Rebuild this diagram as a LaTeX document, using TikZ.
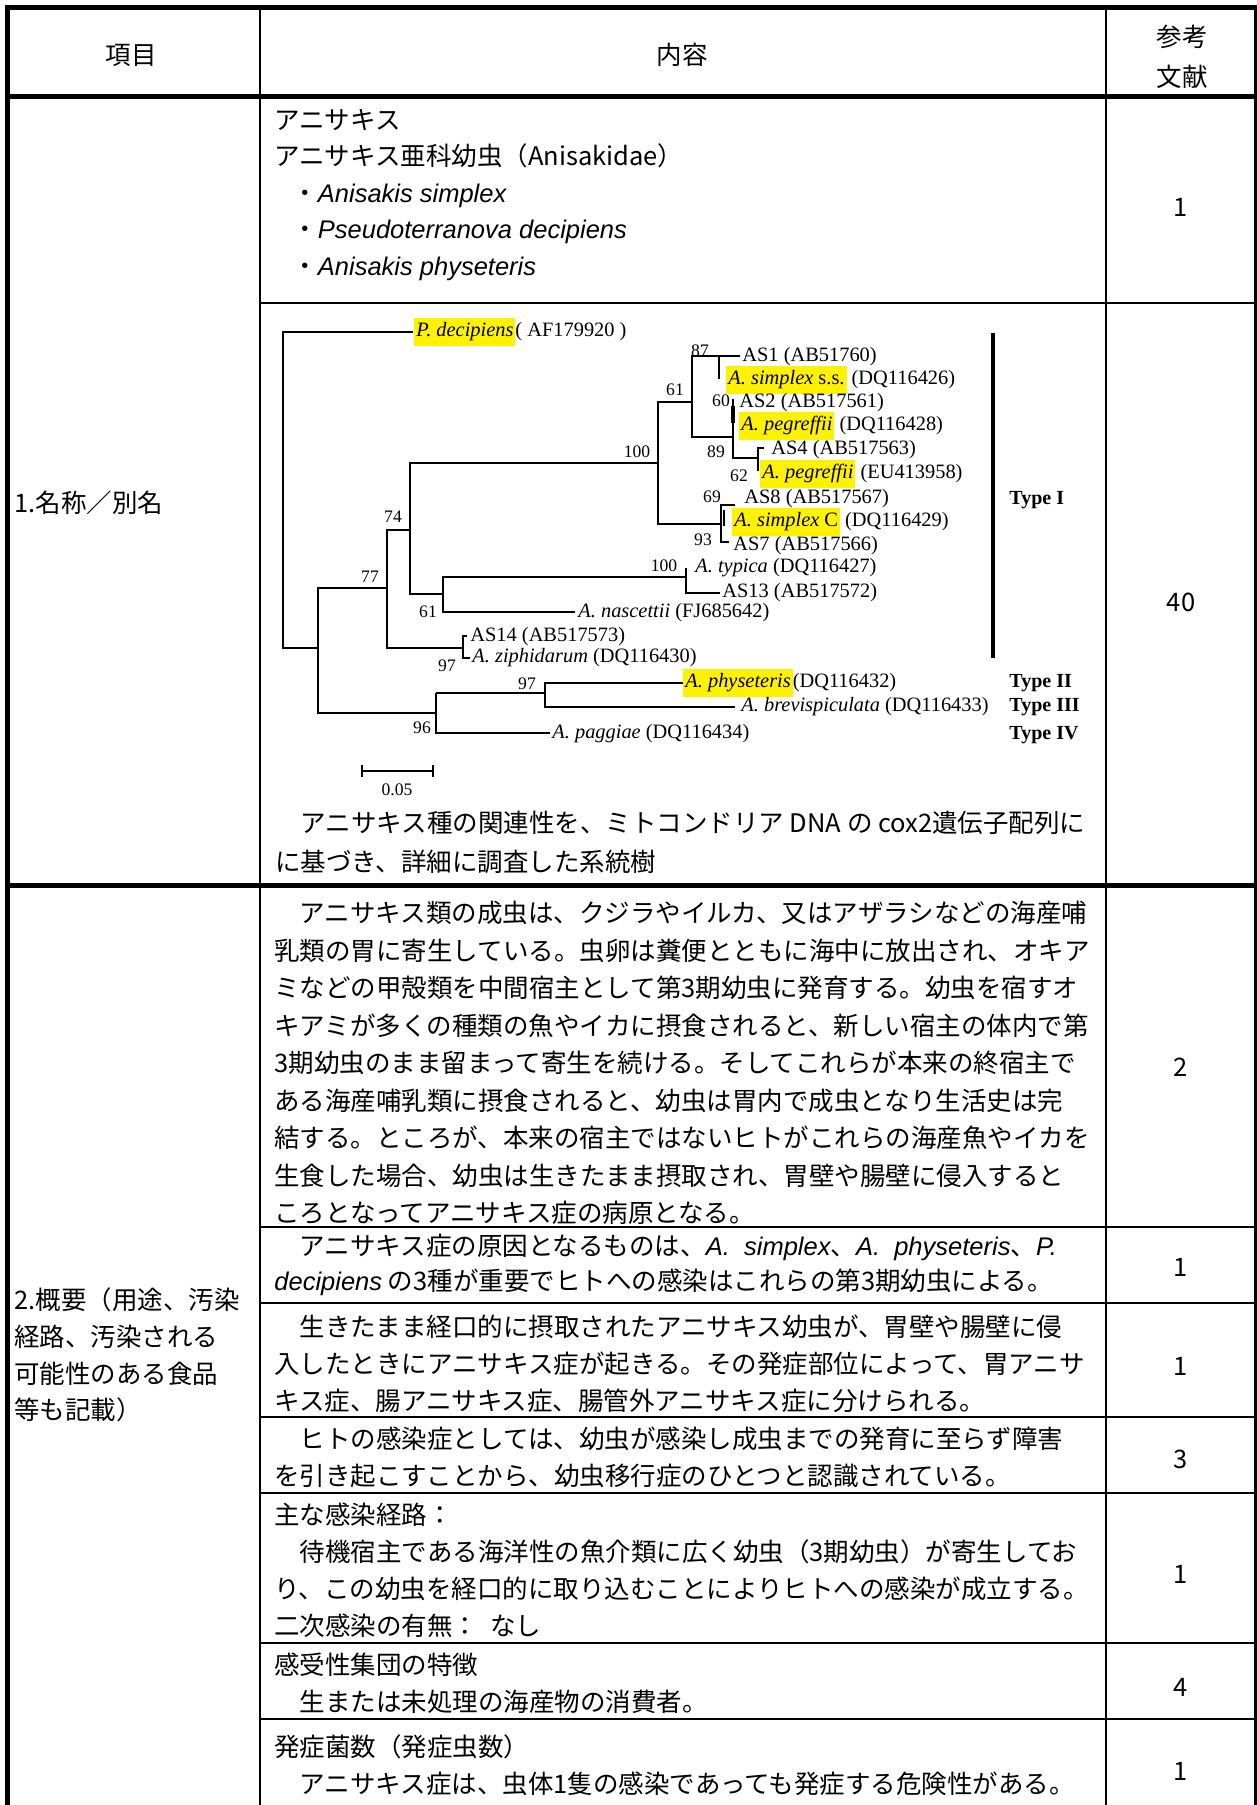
\documentclass[tikz,border=0pt]{standalone}
\usepackage{fontspec}
\setmainfont{Noto Sans CJK JP}
\newfontfamily\arialf{Liberation Sans}
\newfontfamily\timesf{Liberation Serif}
\definecolor{hlyellow}{RGB}{255,242,0}
\newcommand\sci[1]{{\arialf\itshape #1}}
\newcommand\hlbox[1]{{\setlength\fboxsep{1pt}\colorbox{hlyellow}{\strut #1}}}
\tikzset{
    frame/.style={line width=2.5pt},
    colline/.style={line width=1.4pt},
    rowline/.style={line width=1.4pt},
    brline/.style={line width=1.1pt},
    jp/.style={font=\fontsize{12.75}{#1}\selectfont, align=left, anchor=west, inner sep=0pt},
    jp/.default=18.5pt,
    refno/.style={font=\fontsize{12.75}{15}\selectfont, inner sep=0pt},
    hdtext/.style={font=\fontsize{12.75}{20}\selectfont, align=center, inner sep=0pt},
    leaf/.style={font=\timesf\fontsize{10.2}{12}\selectfont, anchor=west, inner sep=0pt},
    boot/.style={font=\timesf\fontsize{8.8}{10}\selectfont, inner sep=0pt},
    typelbl/.style={font=\timesf\bfseries\fontsize{10}{12}\selectfont, anchor=west, inner sep=0pt}
}

\begin{document}
\begin{tikzpicture}[x=0.5pt,y=-0.5pt]
            \useasboundingbox (0,0) rectangle (1257,1805);
            \draw[frame] (7,1805) -- (7,7) -- (1256,7) -- (1256,1805);
            \draw[frame] (7,96.5) -- (1256,96.5);
            \draw[frame] (7,885) -- (1256,885);
            \draw[colline] (260,7) -- (260,1805);
            \draw[colline] (1106,7) -- (1106,1805);
            \draw[rowline] (260,303) -- (1256,303);
            \foreach \yy in {1227,1303,1417,1493,1643,1719}
                \draw[rowline] (260,\yy) -- (1256,\yy);

            \node[hdtext] (hditem) at (131,55) {項目};
            \node[hdtext] (hdbody) at (682,55) {内容};
            \node[hdtext] (hdref) at (1182,57) {参考\\文献};

            \node[jp=18.35pt] (name) at (14,503) {1.名称／別名};
            \node[jp=18.35pt] (summary) at (14,1355) {2.概要（用途、汚染\\経路、汚染される\\可能性のある食品\\等も記載）};

            \node[jp=18.25pt] (names) at (274,195) {アニサキス\\アニサキス亜科幼虫（Anisakidae）\\\hspace*{9pt}・\sci{Anisakis simplex}\\\hspace*{9pt}・\sci{Pseudoterranova decipiens}\\\hspace*{9pt}・\sci{Anisakis physeteris}};
            \node[refno] (ref1) at (1181,207) {1};

            \draw[brline] (413,332) -- (283,332) -- (283,648) -- (318,648);
            \draw[brline] (387,588) -- (318,588) -- (318,713) -- (436,713);
            \draw[brline] (410,530) -- (387,530) -- (387,648) -- (463,648);
            \draw[brline] (658,463) -- (410,463) -- (410,594) -- (443,594);
            \draw[brline] (692,402) -- (658,402) -- (658,524) -- (721,524);
            \draw[brline] (740,356) -- (692,356) -- (692,437) -- (733,437);
            \draw[brline] (719,356) -- (719,379);
            \draw[brline] (733,399) -- (733,458) -- (758,458);
            \draw[line width=2.2pt] (733,406) -- (733,423);
            \draw[brline] (764,448) -- (758,448) -- (758,471);
            \draw[brline] (735,505) -- (721,505) -- (721,542) -- (729,542);
            \draw[brline] (724,510) -- (724,526);
            \draw[brline] (686,577) -- (443,577) -- (443,612) -- (575,612);
            \draw[brline] (686,568) -- (686,593) -- (720,593);
            \draw[brline] (467,636) -- (463,636) -- (463,658) -- (470,658);
            \draw[brline] (436,693) -- (545,693);
            \draw[brline] (436,693) -- (436,733) -- (550,733);
            \draw[brline] (683,683) -- (545,683) -- (545,707) -- (735,707);
            \draw[line width=1.6pt] (993,333) -- (993,658);
            \draw[brline] (362,765) -- (362,777) (362,771) -- (433,771) (433,765) -- (433,777);

            \node[leaf] (pdec) at (414,332) {\hlbox{\textit{P. decipiens}}( AF179920 )};
            \node[leaf] (as1) at (742,357) {AS1 (AB51760)};
            \node[leaf] (simss) at (726,380) {\hlbox{\textit{A. simplex} s.s.} (DQ116426)};
            \node[leaf] (as2) at (739,403) {AS2 (AB517561)};
            \node[leaf] (peg1) at (739,426) {\hlbox{\textit{A. pegreffii}} (DQ116428)};
            \node[leaf] (as4) at (771,450) {AS4 (AB517563)};
            \node[leaf] (peg2) at (760,474) {\hlbox{\textit{A. pegreffii}} (EU413958)};
            \node[leaf] (as8) at (744,499) {AS8 (AB517567)};
            \node[leaf] (simc) at (732,522) {\hlbox{\textit{A. simplex} C} (DQ116429)};
            \node[leaf] (as7) at (733,546) {AS7 (AB517566)};
            \node[leaf] (typ) at (695,568) {\textit{A. typica} (DQ116427)};
            \node[leaf] (as13) at (722,593) {AS13 (AB517572)};
            \node[leaf] (nas) at (578,613) {\textit{A. nascettii} (FJ685642)};
            \node[leaf] (as14) at (470,637) {AS14 (AB517573)};
            \node[leaf] (ziph) at (472,658) {\textit{A. ziphidarum} (DQ116430)};
            \node[leaf] (phys) at (683,683) {\hlbox{\textit{A. physeteris}}(DQ116432)};
            \node[leaf] (brev) at (741,707) {\textit{A. brevispiculata} (DQ116433)};
            \node[leaf] (pagg) at (552,734) {\textit{A. paggiae} (DQ116434)};

            \node[boot] (b87) at (700,351) {87};
            \node[boot] (b61a) at (675,390) {61};
            \node[boot] (b60) at (721,401) {60};
            \node[boot] (b89) at (716,452) {89};
            \node[boot] (b62) at (739,476) {62};
            \node[boot] (b100a) at (637,452) {100};
            \node[boot] (b69) at (712,497) {69};
            \node[boot] (b93) at (703,540) {93};
            \node[boot] (b74) at (393,517) {74};
            \node[boot] (b100b) at (664,566) {100};
            \node[boot] (b77) at (370,577) {77};
            \node[boot] (b61b) at (428,612) {61};
            \node[boot] (b97a) at (447,666) {97};
            \node[boot] (b97b) at (527,684) {97};
            \node[boot] (b96) at (422,728) {96};
            \node[boot] (scale) at (397,790) {0.05};

            \node[typelbl] (type1) at (1009,500) {Type I};
            \node[typelbl] (type2) at (1009,683) {Type II};
            \node[typelbl] (type3) at (1009,707) {Type III};
            \node[typelbl] (type4) at (1009,735) {Type IV};

            \node[jp=19.5pt] (caption) at (275,842) {　アニサキス種の関連性を、ミトコンドリア DNA の cox2遺伝子配列に\\に基づき、詳細に調査した系統樹};
            \node[refno] (ref40) at (1181,602) {40};

            \node[jp=18.75pt] (lifecycle) at (274,1063) {　アニサキス類の成虫は、クジラやイルカ、又はアザラシなどの海産哺\\乳類の胃に寄生している。虫卵は糞便とともに海中に放出され、オキア\\ミなどの甲殻類を中間宿主として第3期幼虫に発育する。幼虫を宿すオ\\キアミが多くの種類の魚やイカに摂食されると、新しい宿主の体内で第\\3期幼虫のまま留まって寄生を続ける。そしてこれらが本来の終宿主で\\ある海産哺乳類に摂食されると、幼虫は胃内で成虫となり生活史は完\\結する。ところが、本来の宿主ではないヒトがこれらの海産魚やイカを\\生食した場合、幼虫は生きたまま摂取され、胃壁や腸壁に侵入すると\\ころとなってアニサキス症の病原となる。};
            \node[refno] (ref2) at (1181,1067) {2};

            \node[jp=17.5pt] (causes) at (274,1265) {　アニサキス症の原因となるものは、\sci{A.~~simplex}、\sci{A.~~physeteris}、\sci{P.}\\\sci{decipiens} の3種が重要でヒトへの感染はこれらの第3期幼虫による。};
            \node[refno] (ref3) at (1181,1267) {1};

            \node[jp] (invade) at (274,1364) {　生きたまま経口的に摂取されたアニサキス幼虫が、胃壁や腸壁に侵\\入したときにアニサキス症が起きる。その発症部位によって、胃アニサ\\キス症、腸アニサキス症、腸管外アニサキス症に分けられる。};
            \node[refno] (ref4) at (1181,1366) {1};

            \node[jp] (larva) at (274,1457) {　ヒトの感染症としては、幼虫が感染し成虫までの発育に至らず障害\\を引き起こすことから、幼虫移行症のひとつと認識されている。};
            \node[refno] (ref5) at (1181,1459) {3};

            \node[jp] (route) at (274,1570) {主な感染経路：\\　待機宿主である海洋性の魚介類に広く幼虫（3期幼虫）が寄生してお\\り、この幼虫を経口的に取り込むことによりヒトへの感染が成立する。\\二次感染の有無：\hspace{6pt}なし};
            \node[refno] (ref6) at (1181,1574) {1};

            \node[jp] (group) at (274,1683) {感受性集団の特徴\\　生または未処理の海産物の消費者。};
            \node[refno] (ref7) at (1181,1687) {4};

            \node[jp] (dose) at (274,1765) {発症菌数（発症虫数）\\　アニサキス症は、虫体1隻の感染であっても発症する危険性がある。};
            \node[refno] (ref8) at (1181,1771) {1};
\end{tikzpicture}
\end{document}
